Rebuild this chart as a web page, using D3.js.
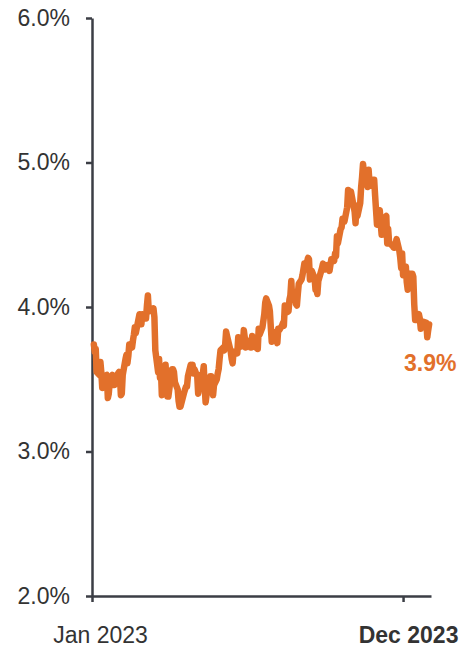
<!DOCTYPE html>
<html>
<head>
<meta charset="utf-8">
<script src="https://d3js.org/d3.v7.min.js"></script>
<style>
  body { margin: 0; background: #fff; }
  svg text { font-family: "Liberation Sans", Arial, Helvetica, sans-serif; }
  .axis path, .axis line { stroke: #3b3e45; stroke-width: 2.5px; }
  .axis text { font-size: 23px; fill: #333; }
</style>
</head>
<body>
<svg id="chart" width="459" height="652"></svg>
<script>
// 10y yield, 2023 trading days (MM-DD) and closing values in %
var days = [
  "01-03","01-04","01-05","01-06","01-09","01-10","01-11","01-12","01-13","01-17","01-18","01-19","01-20","01-23","01-24","01-25","01-26","01-27","01-30","01-31",
  "02-01","02-02","02-03","02-06","02-07","02-08","02-09","02-10","02-13","02-14","02-15","02-16","02-17","02-21","02-22","02-23","02-24","02-27","02-28",
  "03-01","03-02","03-03","03-06","03-07","03-08","03-09","03-10","03-13","03-14","03-15","03-16","03-17","03-20","03-21","03-22","03-23","03-24","03-27","03-28","03-29","03-30","03-31",
  "04-03","04-04","04-05","04-06","04-10","04-11","04-12","04-13","04-14","04-17","04-18","04-19","04-20","04-21","04-24","04-25","04-26","04-27","04-28",
  "05-01","05-02","05-03","05-04","05-05","05-08","05-09","05-10","05-11","05-12","05-15","05-16","05-17","05-18","05-19","05-22","05-23","05-24","05-25","05-26","05-30","05-31",
  "06-01","06-02","06-05","06-06","06-07","06-08","06-09","06-12","06-13","06-14","06-15","06-16","06-20","06-21","06-22","06-23","06-26","06-27","06-28","06-29","06-30",
  "07-03","07-05","07-06","07-07","07-10","07-11","07-12","07-13","07-14","07-17","07-18","07-19","07-20","07-21","07-24","07-25","07-26","07-27","07-28","07-31",
  "08-01","08-02","08-03","08-04","08-07","08-08","08-09","08-10","08-11","08-14","08-15","08-16","08-17","08-18","08-21","08-22","08-23","08-24","08-25","08-28","08-29","08-30","08-31",
  "09-01","09-05","09-06","09-07","09-08","09-11","09-12","09-13","09-14","09-15","09-18","09-19","09-20","09-21","09-22","09-25","09-26","09-27","09-28","09-29",
  "10-02","10-03","10-04","10-05","10-06","10-10","10-11","10-12","10-13","10-16","10-17","10-18","10-19","10-20","10-23","10-24","10-25","10-26","10-27","10-30","10-31",
  "11-01","11-02","11-03","11-06","11-07","11-08","11-09","11-10","11-13","11-14","11-15","11-16","11-17","11-20","11-21","11-22","11-24","11-27","11-28","11-29","11-30",
  "12-01","12-04","12-05","12-06","12-07","12-08","12-11","12-12","12-13","12-14","12-15","12-18","12-19","12-20","12-21","12-22","12-26","12-27","12-28","12-29"
];

var yields = [
  3.74,3.69,3.71,3.55,3.53,3.62,3.55,3.44,3.51,3.53,3.37,3.40,3.48,3.53,3.46,3.46,3.50,3.52,3.55,3.52,
  3.39,3.40,3.53,3.64,3.67,3.61,3.66,3.74,3.72,3.77,3.81,3.86,3.82,3.95,3.92,3.88,3.95,3.92,3.92,
  4.01,4.08,3.97,3.98,3.97,3.99,3.93,3.70,3.55,3.64,3.51,3.57,3.39,3.47,3.60,3.48,3.38,3.38,3.53,3.57,3.57,3.55,3.48,
  3.43,3.35,3.31,3.31,3.41,3.43,3.45,3.45,3.52,3.60,3.59,3.60,3.54,3.57,3.52,3.40,3.45,3.53,3.44,
  3.59,3.44,3.34,3.39,3.44,3.52,3.52,3.44,3.39,3.46,3.50,3.54,3.57,3.64,3.70,3.72,3.70,3.74,3.83,3.80,3.69,3.64,
  3.61,3.69,3.69,3.68,3.79,3.72,3.75,3.73,3.84,3.79,3.72,3.77,3.72,3.72,3.80,3.74,3.72,3.77,3.71,3.85,3.81,
  3.86,3.95,4.03,4.06,4.01,3.97,3.86,3.76,3.83,3.81,3.80,3.75,3.85,3.84,3.87,3.89,3.87,4.01,3.96,3.97,
  4.05,4.08,4.18,4.05,4.09,4.02,4.01,4.09,4.16,4.19,4.22,4.26,4.30,4.26,4.34,4.33,4.19,4.23,4.25,4.20,4.12,4.12,4.09,
  4.18,4.27,4.30,4.27,4.26,4.29,4.29,4.25,4.29,4.33,4.32,4.37,4.35,4.49,4.44,4.54,4.55,4.61,4.59,4.59,
  4.69,4.81,4.73,4.72,4.80,4.66,4.58,4.70,4.63,4.72,4.83,4.90,4.99,4.93,4.86,4.83,4.95,4.86,4.84,4.88,4.88,
  4.77,4.67,4.57,4.67,4.58,4.50,4.62,4.61,4.63,4.44,4.54,4.45,4.44,4.42,4.41,4.41,4.47,4.39,4.34,4.27,4.37,
  4.22,4.28,4.17,4.12,4.14,4.23,4.23,4.21,4.02,3.91,3.91,3.95,3.92,3.85,3.89,3.90,3.89,3.79,3.84,3.88
];

var yTicks = [2, 3, 4, 5, 6];
var xTickLabels = ["Jan 2023", "Dec 2023"];

var parseDay = d3.timeParse("%Y-%m-%d");
var data = days.map(function(d, i) { return { date: parseDay("2023-" + d), value: yields[i] }; });

var svg = d3.select("#chart");
var orange = "#e2702b";

var x = d3.scaleTime()
    .domain([parseDay("2023-01-01"), parseDay("2023-12-31")])
    .range([92, 431]);

var y = d3.scaleLinear()
    .domain([2, 6])
    .range([596, 18]);

// y axis
svg.append("g")
    .attr("class", "axis")
    .attr("transform", "translate(" + x.range()[0] + ",0)")
    .call(d3.axisLeft(y)
      .tickValues(yTicks)
      .tickSize(6)
      .tickSizeOuter(0)
      .tickPadding(16)
      .tickFormat(function(d) { return d.toFixed(1) + "%"; }));

// x axis
var xTicks = [parseDay("2023-01-01"), parseDay("2023-12-01")];
var xAxis = svg.append("g")
    .attr("class", "axis")
    .attr("transform", "translate(0," + y.range()[0] + ")")
    .call(d3.axisBottom(x)
      .tickValues(xTicks)
      .tickSize(6)
      .tickSizeOuter(0)
      .tickFormat(function(d, i) { return xTickLabels[i]; }));

xAxis.selectAll(".tick text")
    .attr("y", 47)
    .attr("dy", 0)
    .attr("x", function(d, i) { return i === 1 ? 5 : 8; })
    .style("font-weight", function(d, i) { return i === 1 ? "bold" : "normal"; });

// line
var line = d3.line()
    .x(function(d) { return x(d.date); })
    .y(function(d) { return y(d.value); });

svg.append("path")
    .datum(data)
    .attr("fill", "none")
    .attr("stroke", orange)
    .attr("stroke-width", 6.5)
    .attr("stroke-linejoin", "round")
    .attr("stroke-linecap", "round")
    .attr("d", line);

// last value label
var last = data[data.length - 1];
svg.append("text")
    .attr("x", 404)
    .attr("y", y(last.value) + 47)
    .attr("fill", orange)
    .style("font-size", "23px")
    .style("font-weight", "bold")
    .text(last.value.toFixed(1) + "%");
</script>
</body>
</html>
